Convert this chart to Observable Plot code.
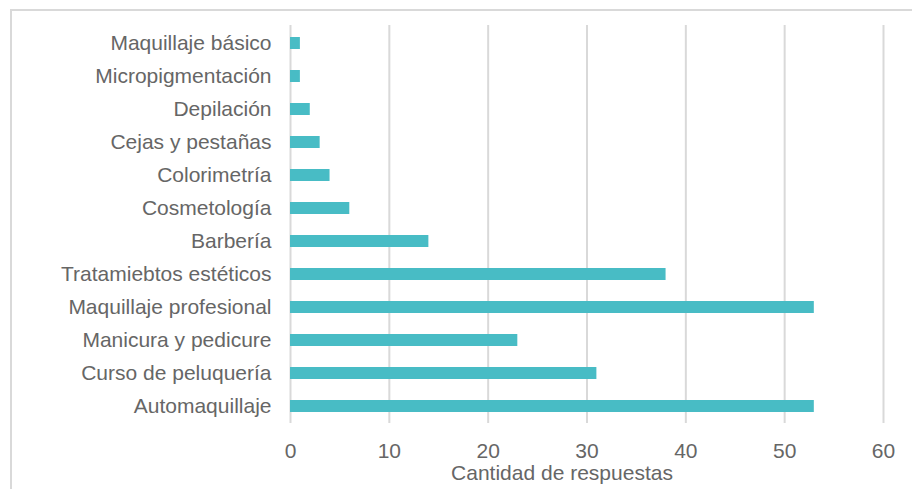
<!DOCTYPE html>
<html>
<head>
<meta charset="utf-8">
<script src="https://cdn.jsdelivr.net/npm/d3@7"></script>
<script src="https://cdn.jsdelivr.net/npm/@observablehq/plot@0.6"></script>
<style>
  html, body { margin: 0; padding: 0; background: #fff; overflow: hidden; }
  #wrap { position: relative; width: 912px; height: 489px; }
  #border { position: absolute; left: 10px; top: 9px; width: 1000px; height: 1000px;
            border-top: 2px solid #d9d9d9; border-left: 2px solid #d9d9d9; box-sizing: border-box; }
  #chart { position: absolute; left: 0; top: 0; }
</style>
</head>
<body>
<div id="wrap"><div id="border"></div><div id="chart"></div></div>
<script>
// Courses (top to bottom) and number of responses for each
const cursos = [
  "Maquillaje básico",
  "Micropigmentación",
  "Depilación",
  "Cejas y pestañas",
  "Colorimetría",
  "Cosmetología",
  "Barbería",
  "Tratamiebtos estéticos",
  "Maquillaje profesional",
  "Manicura y pedicure",
  "Curso de peluquería",
  "Automaquillaje"
];
const respuestas = [1, 1, 2, 3, 4, 6, 14, 38, 53, 23, 31, 53];
const ticksX = [0, 10, 20, 30, 40, 50, 60];
const tituloX = "Cantidad de respuestas";

const datos = cursos.map((c, i) => ({curso: c, n: respuestas[i]}));

const chart = Plot.plot({
  width: 912,
  height: 489,
  marginLeft: 290,
  marginRight: 29,
  marginTop: 25,
  marginBottom: 66,
  style: {fontFamily: "'Liberation Sans', Arial, sans-serif", fontSize: "21px", color: "#595959", background: "transparent"},
  x: {domain: [0, 60], ticks: ticksX},
  y: {domain: cursos, paddingInner: 0.64, paddingOuter: 0.32},
  marks: [
    Plot.gridX(ticksX, {stroke: "#d9d9d9", strokeOpacity: 1, strokeWidth: 2}),
    Plot.barX(datos, {x: "n", y: "curso", fill: "#48bcc5"}),
    Plot.axisX({ticks: ticksX, tickSize: 0, tickPadding: 20, label: null, fill: "#666666"}),
    Plot.axisY({tickSize: 0, tickPadding: 19, label: null, fill: "#666666"}),
    Plot.text([tituloX], {frameAnchor: "bottom", dx: -25, dy: 56, fill: "#666666", fontSize: 21})
  ]
});
document.getElementById("chart").appendChild(chart);
</script>
</body>
</html>
